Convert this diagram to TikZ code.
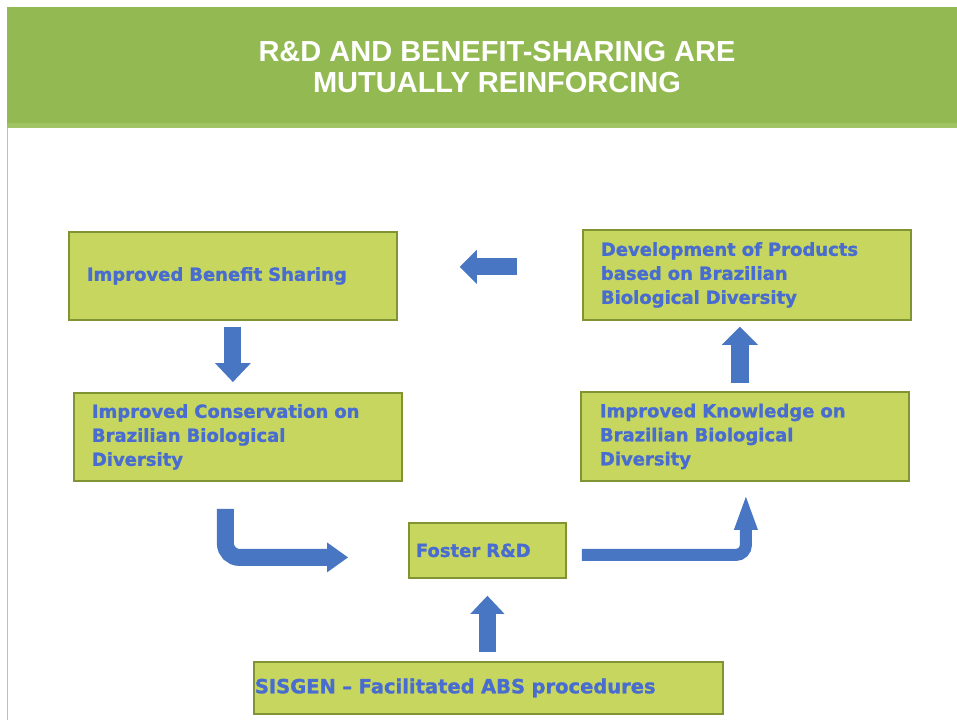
\documentclass[tikz,border=0pt]{standalone}
\usepackage{fontspec}
\setmainfont{DejaVu Sans}
\newfontfamily\titlefont{Liberation Sans}
\newfontfamily\boxfont[FakeBold=1.2,Ligatures=TeX]{DejaVu Sans}
\usetikzlibrary{arrows.meta,calc}
\definecolor{hdr}{RGB}{147,186,82}
\definecolor{hdrlight}{RGB}{160,196,100}
\definecolor{boxfill}{RGB}{198,214,94}
\definecolor{boxline}{RGB}{128,148,52}
\definecolor{txtblue}{RGB}{72,108,208}
\definecolor{arrblue}{RGB}{72,118,194}
\tikzset{
  box/.style={draw=boxline, line width=1.8pt, fill=boxfill, anchor=north west,
    inner ysep=0pt, font=\boxfont\fontsize{18}{24}\selectfont\bfseries, text=txtblue, align=left},
  flow/.style={draw=arrblue, line width=#1},
  titletext/.style={text=white, align=center, font=\titlefont\fontsize{29}{31}\selectfont\bfseries}
}
\begin{document}
\begin{tikzpicture}[x=1pt,y=-1pt]
\useasboundingbox (0,0) rectangle (957,720);
\fill[white] (0,0) rectangle (957,720);
% header
\fill[hdr] (7,7) rectangle (957,128);
\fill[hdrlight] (7,123) rectangle (957,128);
\draw[black!25, line width=1pt] (7.5,128) -- (7.5,720);
\node[titletext] (title) at (497,67) {R\&D AND BENEFIT-SHARING ARE\\MUTUALLY REINFORCING};
% boxes
\node[box, minimum width=328pt, minimum height=88pt, text width=292pt, inner xsep=18pt] (box1) at (68,231) {Improved Benefit Sharing};
\node[box, minimum width=328pt, minimum height=88pt, text width=292pt, inner xsep=18pt] (box2) at (73,392) {Improved Conservation on\\Brazilian Biological\\Diversity};
\node[box, minimum width=328pt, minimum height=90pt, text width=292pt, inner xsep=18pt] (box3) at (582,229) {Development of Products\\based on Brazilian\\Biological Diversity};
\node[box, minimum width=328pt, minimum height=89pt, text width=290pt, inner xsep=19pt] (box4) at (580,391) {Improved Knowledge on\\Brazilian Biological\\Diversity};
\node[box, minimum width=157pt, minimum height=55pt, text width=143pt, inner xsep=7pt] (foster) at (408,522) {Foster R\&D};
\node[box, minimum width=469pt, minimum height=52pt, text width=467pt, inner xsep=1pt, font=\boxfont\fontsize{19.5}{24}\selectfont\bfseries] (sisgen) at (253,661) {SISGEN – Facilitated ABS procedures};
% arrows
\draw[flow=17pt, -{Triangle[width=34pt,length=17pt,line width=0pt]}]
  ($(box3.west)+(-65,-8)$) -- ($(box1.east)+(62,-9)$);
\draw[flow=17pt, -{Triangle[width=36pt,length=19pt,line width=0pt]}]
  ($(box1.south)+(0,6)$) -- ($(box2.north)+(-5,-10)$);
\draw[flow=18pt, -{Triangle[width=36pt,length=18pt,line width=0pt]}]
  ($(box4.north)+(-5,-8)$) -- ($(box3.south)+(-7,6)$);
\draw[flow=17pt, -{Triangle[width=34pt,length=18pt,line width=0pt]}]
  ($(sisgen.north)+(-1,-9)$) -- ($(foster.south)+(0,17)$);
\draw[flow=17pt, rounded corners=14pt, -{Triangle[width=30pt,length=21pt,line width=0pt]}]
  ($(box2.south)+(-12.5,27)$) |- ($(foster.west)+(-60,7)$);
\draw[flow=12pt, rounded corners=10pt, -{Triangle[width=24pt,length=33pt,line width=0pt]}]
  ($(foster.east)+(15,4.5)$) -| ($(box4.south)+(1,15)$);
\end{tikzpicture}
\end{document}
